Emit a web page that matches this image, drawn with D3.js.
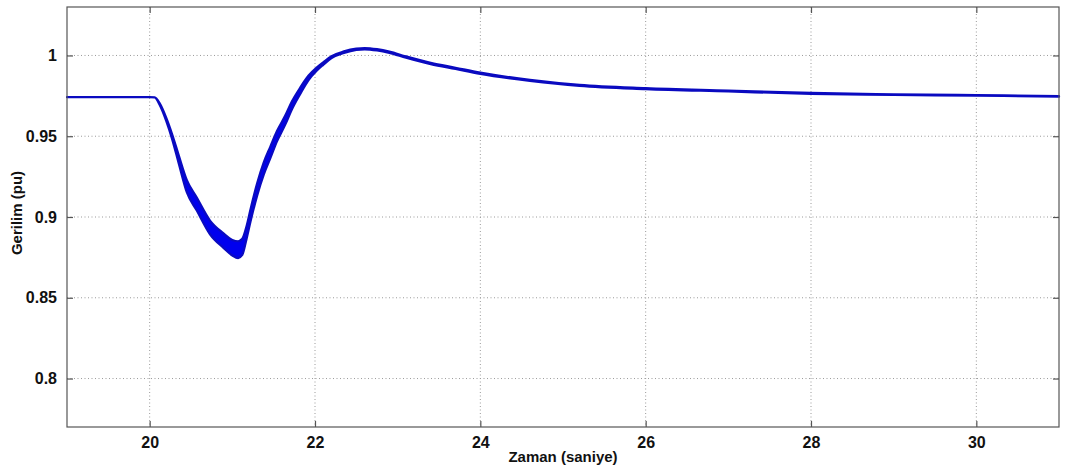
<!DOCTYPE html>
<html>
<head>
<meta charset="utf-8">
<script src="https://cdn.jsdelivr.net/npm/d3@7"></script>
<style>
  html, body { margin: 0; padding: 0; background: #fff; }
  svg { display: block; }
  text { font-family: Arial, "Liberation Sans", Helvetica, sans-serif; font-weight: bold; fill: #111; }
</style>
</head>
<body>
<svg id="chart" width="1067" height="469"></svg>
<script>
// ---- data ----
const time  = [19, 20.0, 20.06, 20.12, 20.2, 20.27, 20.35, 20.45, 20.57, 20.73, 20.89, 21.0, 21.07, 21.12, 21.17, 21.22, 21.3, 21.38, 21.46, 21.54, 21.64, 21.72, 21.82, 21.92, 22.02, 22.1, 22.2, 22.35, 22.5, 22.6, 22.75, 22.9, 23.1, 23.4, 23.7, 24.0, 24.6, 25.2, 26, 27, 28, 29, 30, 31];
const voltageUpper = [0.9742, 0.9742, 0.9740, 0.9705, 0.9615, 0.9515, 0.9385, 0.9228, 0.9120, 0.8978, 0.8900, 0.8858, 0.8850, 0.8865, 0.8940, 0.9048, 0.9208, 0.9338, 0.9436, 0.9532, 0.9628, 0.9715, 0.9800, 0.9874, 0.9925, 0.9958, 0.9996, 1.0025, 1.0042, 1.0046, 1.0039, 1.0024, 0.9994, 0.9954, 0.9924, 0.9894, 0.9849, 0.9818, 0.9798, 0.9783, 0.9768, 0.9760, 0.9755, 0.9749];
const voltageLower = [0.9742, 0.9742, 0.9740, 0.9695, 0.9595, 0.9485, 0.9335, 0.9152, 0.9040, 0.8893, 0.8810, 0.8762, 0.8746, 0.8765, 0.8860, 0.8972, 0.9132, 0.9262, 0.9364, 0.9468, 0.9572, 0.9665, 0.9760, 0.9846, 0.9905, 0.9942, 0.9984, 1.0015, 1.0034, 1.0038, 1.0031, 1.0016, 0.9986, 0.9946, 0.9916, 0.9886, 0.9843, 0.9812, 0.9792, 0.9777, 0.9762, 0.9756, 0.9751, 0.9745];
const xTicks = [20, 22, 24, 26, 28, 30];
const yTicks = [0.8, 0.85, 0.9, 0.95, 1];
const xDomain = [19, 31];
const yDomain = [0.77, 1.03];
const xLabel = "Zaman (saniye)";
const yLabel = "Gerilim (pu)";

// ---- layout ----
const margin = { left: 67, top: 7, right: 1067 - 1059, bottom: 469 - 427 };
const W = 1067, H = 469;
const iw = W - margin.left - margin.right;
const ih = H - margin.top - margin.bottom;

const svg = d3.select("#chart");
const g = svg.append("g").attr("transform", `translate(${margin.left},${margin.top})`);

const x = d3.scaleLinear().domain(xDomain).range([0, iw]);
const y = d3.scaleLinear().domain(yDomain).range([ih, 0]);

// grid
g.append("g").selectAll("line").data(xTicks).join("line")
  .attr("x1", d => x(d)).attr("x2", d => x(d)).attr("y1", 0).attr("y2", ih)
  .attr("stroke", "#9a9a9a").attr("stroke-width", 1).attr("stroke-dasharray", "1,2.5");
g.append("g").selectAll("line").data(yTicks).join("line")
  .attr("y1", d => y(d)).attr("y2", d => y(d)).attr("x1", 0).attr("x2", iw)
  .attr("stroke", "#9a9a9a").attr("stroke-width", 1).attr("stroke-dasharray", "1,2.5");

// data band
const pts = time.map((t, i) => ({ t, hi: voltageUpper[i], lo: voltageLower[i] }));
const area = d3.area().x(d => x(d.t)).y0(d => y(d.lo)).y1(d => y(d.hi)).curve(d3.curveMonotoneX);
g.append("path").datum(pts).attr("d", area)
  .attr("fill", "#0000ee").attr("stroke", "#0a0ac0").attr("stroke-width", 2.2).attr("stroke-linejoin", "round");

// axes (Matlab style box with inward ticks)
const axBottom = d3.axisBottom(x).tickValues(xTicks).tickSize(-6).tickPadding(10).tickFormat(d3.format("d"));
const axTop = d3.axisTop(x).tickValues(xTicks).tickSize(-6).tickFormat("");
const axLeft = d3.axisLeft(y).tickValues(yTicks).tickSize(-6).tickPadding(10).tickFormat(d => d3.format("")(d));
const axRight = d3.axisRight(y).tickValues(yTicks).tickSize(-6).tickFormat("");

function style(sel) {
  sel.selectAll("path").attr("stroke", "#555").attr("stroke-width", 1.2);
  sel.selectAll("line").attr("stroke", "#555").attr("stroke-width", 1.2);
  sel.selectAll("text").style("font-size", "16px").style("font-weight", "bold").attr("fill", "#111");
}
g.append("g").attr("transform", `translate(0,${ih})`).call(axBottom).call(style);
g.append("g").call(axTop).call(style);
g.append("g").call(axLeft).call(style);
g.append("g").attr("transform", `translate(${iw},0)`).call(axRight).call(style);
g.selectAll(".domain").attr("d", null);
g.append("rect").attr("x", 0).attr("y", 0).attr("width", iw).attr("height", ih)
  .attr("fill", "none").attr("stroke", "#555").attr("stroke-width", 1.2);

// labels
svg.append("text").attr("x", margin.left + iw / 2).attr("y", 462)
  .attr("text-anchor", "middle").style("font-size", "15px").text(xLabel);
svg.append("text").attr("transform", `translate(22,${margin.top + ih / 2 - 4}) rotate(-90)`)
  .attr("text-anchor", "middle").style("font-size", "15px").text(yLabel);
</script>
</body>
</html>
